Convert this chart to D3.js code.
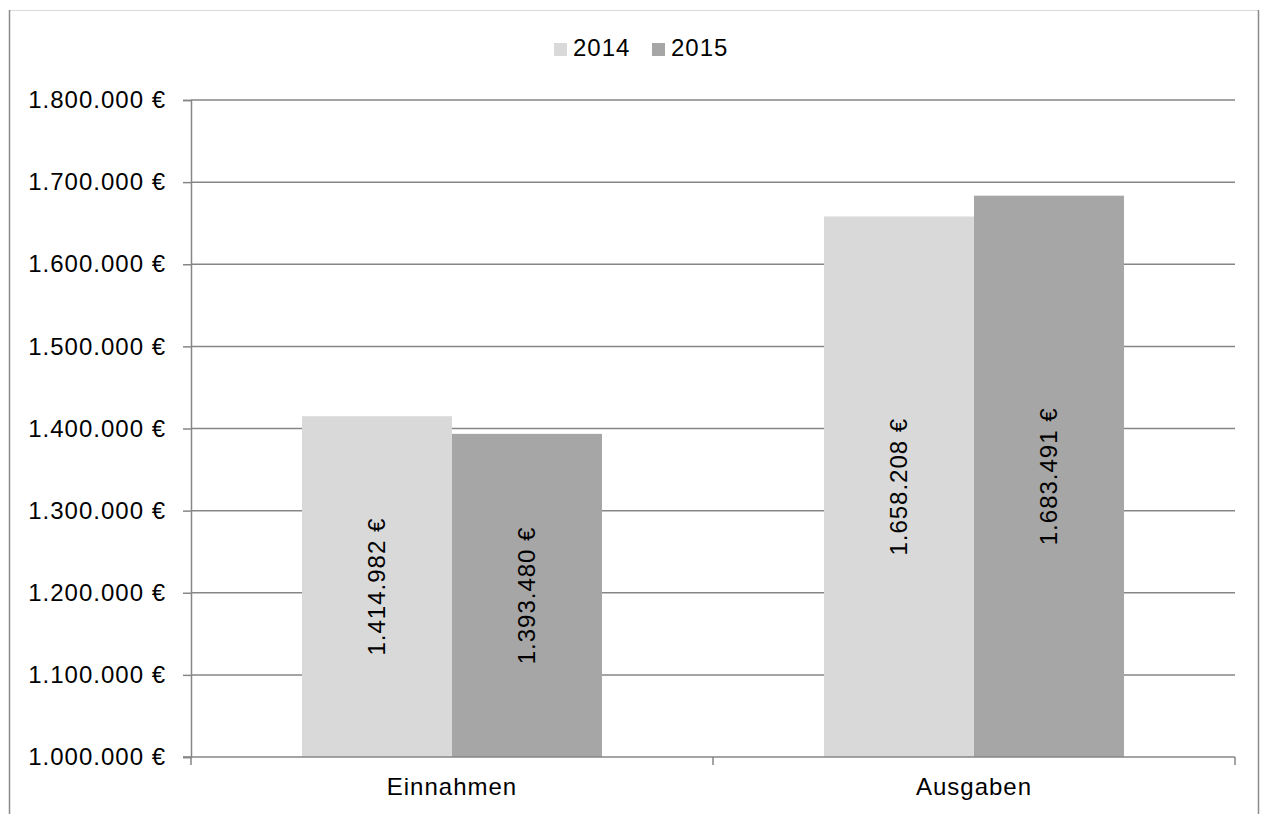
<html>
  <head>
    <style>
      body { margin: 0; background: #fff; }
      text { font-family: "Liberation Sans", Arial, sans-serif; fill: #000; letter-spacing: 1px; }
    </style>
  </head>
  <body>
    <script src="https://d3js.org/d3.v7.min.js"></script>
    <script>
    var width = 1265, height = 814;

    var categories = ["Einnahmen", "Ausgaben"];
    var years = ["2014", "2015"];
    var values2014 = [1414982, 1658208];
    var values2015 = [1393480, 1683491];
    var yTicks = [1000000, 1100000, 1200000, 1300000, 1400000, 1500000, 1600000, 1700000, 1800000];

    var colors = {"2014": "#d9d9d9", "2015": "#a6a6a6"};
    var gridColor = "#868686";

    var margin = {left: 191, right: 30, top: 100, bottom: 57};

    var svg = d3.select("body")
        .append("svg")
        .attr("width", width)
        .attr("height", height);

    // chart frame (cut off at the bottom)
    svg.append("line").attr("x1", 9.5).attr("x2", 1258.5).attr("y1", 10.5).attr("y2", 10.5)
        .attr("stroke", "#d9d9d9");
    svg.append("line").attr("x1", 9.5).attr("x2", 9.5).attr("y1", 10).attr("y2", height)
        .attr("stroke", "#8c8c8c").attr("stroke-width", 1.5);
    svg.append("line").attr("x1", 1258.5).attr("x2", 1258.5).attr("y1", 10).attr("y2", height)
        .attr("stroke", "#8c8c8c").attr("stroke-width", 1.5);

    var x0 = d3.scaleBand()
        .domain(categories)
        .range([margin.left, width - margin.right])
        .paddingInner(0)
        .paddingOuter(0);

    var x1 = d3.scaleBand()
        .domain(years)
        .range([0, x0.bandwidth()])
        .paddingOuter(0.74);

    var y = d3.scaleLinear()
        .domain([1000000, 1800000])
        .range([height - margin.bottom, margin.top]);

    var fmt = function(v) {
      return d3.format(",")(v).replace(/,/g, ".") + " €";
    };

    // gridlines
    svg.append("g").selectAll("line")
      .data(yTicks.slice(1))
      .enter().append("line")
        .attr("x1", margin.left)
        .attr("x2", width - margin.right)
        .attr("y1", function(d) { return y(d); })
        .attr("y2", function(d) { return y(d); })
        .attr("stroke", gridColor)
        .attr("stroke-width", 1.5);

    var rows = categories.map(function(c, i) {
      return {cat: c, vals: [{year: "2014", v: values2014[i]}, {year: "2015", v: values2015[i]}]};
    });

    var groups = svg.append("g").selectAll("g")
      .data(rows)
      .enter().append("g")
        .attr("transform", function(d) { return "translate(" + x0(d.cat) + ",0)"; });

    groups.selectAll("rect")
      .data(function(d) { return d.vals; })
      .enter().append("rect")
        .attr("x", function(d) { return x1(d.year); })
        .attr("width", x1.bandwidth())
        .attr("y", function(d) { return y(d.v); })
        .attr("height", function(d) { return y(1000000) - y(d.v); })
        .attr("fill", function(d) { return colors[d.year]; });

    groups.selectAll("text.val")
      .data(function(d) { return d.vals; })
      .enter().append("text")
        .attr("class", "val")
        .attr("text-anchor", "middle")
        .attr("dy", "0.35em")
        .style("font-size", "24px")
        .attr("transform", function(d) {
          var cx = x1(d.year) + x1.bandwidth() / 2;
          var cy = (y(d.v) + y(1000000)) / 2;
          return "translate(" + cx + "," + cy + ") rotate(-90)";
        })
        .text(function(d) { return fmt(d.v); });

    // y axis
    var yAxis = svg.append("g")
        .attr("transform", "translate(" + margin.left + ",0)")
        .call(d3.axisLeft(y).tickValues(yTicks).tickSize(8).tickPadding(17).tickFormat(fmt));
    yAxis.select(".domain").attr("stroke", gridColor).attr("stroke-width", 1.5);
    yAxis.selectAll(".tick line").attr("stroke", gridColor).attr("stroke-width", 1.5);
    yAxis.selectAll(".tick text").style("font-size", "24px").attr("fill", "#000")
        .style("font-family", "'Liberation Sans', Arial, sans-serif");

    // x axis
    var base = y(1000000);
    svg.append("line")
        .attr("x1", margin.left - 8).attr("x2", width - margin.right)
        .attr("y1", base).attr("y2", base)
        .attr("stroke", gridColor).attr("stroke-width", 1.5);
    var bounds = [margin.left].concat(categories.map(function(c) { return x0(c) + x0.bandwidth(); }));
    svg.append("g").selectAll("line")
      .data(bounds)
      .enter().append("line")
        .attr("x1", function(d) { return d; })
        .attr("x2", function(d) { return d; })
        .attr("y1", base)
        .attr("y2", base + 8)
        .attr("stroke", gridColor).attr("stroke-width", 1.5);
    svg.append("g").selectAll("text")
      .data(categories)
      .enter().append("text")
        .attr("x", function(d) { return x0(d) + x0.bandwidth() / 2; })
        .attr("y", base + 38)
        .attr("text-anchor", "middle")
        .style("font-size", "24px")
        .text(function(d) { return d; });

    // legend
    var legendX = [554, 652];
    var legend = svg.append("g").selectAll("g")
      .data(years)
      .enter().append("g")
        .attr("transform", function(d, i) { return "translate(" + legendX[i] + ",43)"; });
    legend.append("rect").attr("width", 13).attr("height", 13)
        .attr("fill", function(d) { return colors[d]; });
    legend.append("text").attr("x", 19).attr("y", 13)
        .style("font-size", "24px")
        .text(function(d) { return d; });
    </script>
  </body>
</html>
